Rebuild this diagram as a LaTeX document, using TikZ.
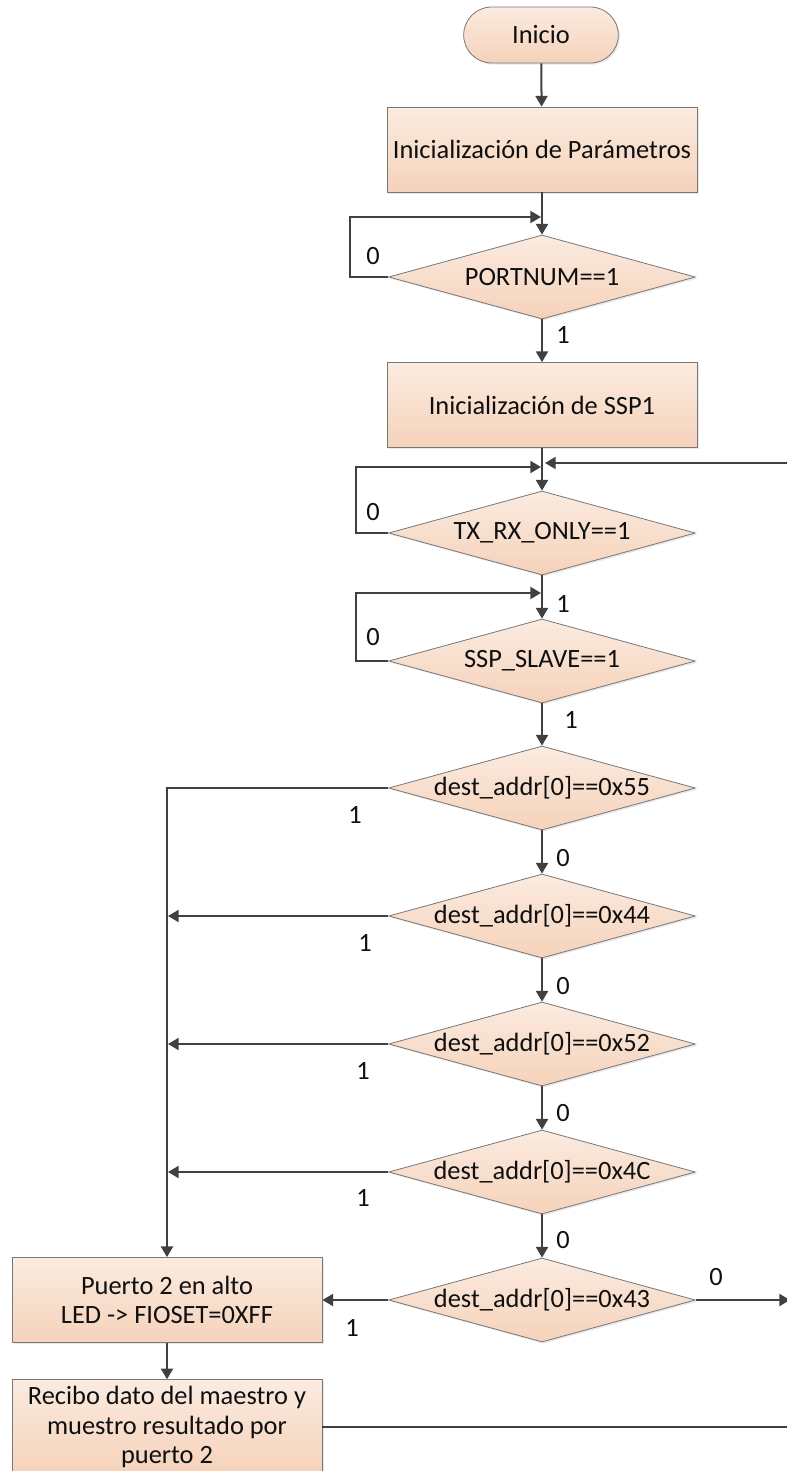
\documentclass[tikz,border=0pt]{standalone}
\usepackage{fontspec}
\setmainfont{Carlito}
\usetikzlibrary{shapes.geometric,arrows.meta,shadows}
\definecolor{linec}{RGB}{64,64,64}
\definecolor{bordc}{RGB}{120,120,120}
\definecolor{filltop}{RGB}{251,235,224}
\definecolor{fillbot}{RGB}{245,210,186}
\definecolor{txtc}{RGB}{15,15,15}
\tikzset{
  shp/.style={draw=bordc, line width=0.6pt, top color=filltop, bottom color=fillbot,
    text=txtc, font=\fontsize{19.8}{22}\selectfont, align=center, inner sep=0pt,
    drop shadow={opacity=0.18, shadow xshift=1.2pt, shadow yshift=-1.2pt}},
  term/.style={shp, rounded corners=21pt, minimum width=116pt, minimum height=42pt},
  procbox/.style={shp, rectangle, minimum width=232.5pt, minimum height=63.75pt},
  dia/.style={shp, diamond, minimum width=230pt, minimum height=63pt},
  conn/.style={draw=linec, line width=1.5pt},
  arr/.style={conn, -{Triangle[length=8pt,width=9pt]}},
  lbl/.style={text=txtc, font=\fontsize{19.8}{22}\selectfont, inner sep=0pt}
}
\begin{document}
\begin{tikzpicture}[x=0.75pt,y=-0.75pt]
\useasboundingbox (0,0) rectangle (787,1471);
\clip (0,0) rectangle (787,1471);
\fill[white] (0,0) rectangle (787,1471);

% nodes
\node[term] (start) at (541,35) {Inicio};
\node[procbox] (init1) at (542,149.5) {Inicialización de Parámetros};
\node[dia] (d1) at (542,277) {\makebox[0pt]{PORTNUM==1}};
\node[procbox] (init2) at (542,405) {Inicialización de SSP1};
\node[dia] (d2) at (542,533) {\makebox[0pt]{TX\_RX\_ONLY==1}};
\node[dia] (d3) at (542,661) {\makebox[0pt]{SSP\_SLAVE==1}};
\node[dia] (d4) at (542,788) {\makebox[0pt]{dest\_addr[0]==0x55}};
\node[dia] (d5) at (542,916) {\makebox[0pt]{dest\_addr[0]==0x44}};
\node[dia] (d6) at (542,1044) {\makebox[0pt]{dest\_addr[0]==0x52}};
\node[dia] (d7) at (542,1172) {\makebox[0pt]{dest\_addr[0]==0x4C}};
\node[dia] (d8) at (542,1300) {\makebox[0pt]{dest\_addr[0]==0x43}};
\node[procbox] (p2) at (167,1300) {Puerto 2 en alto\\LED -> FIOSET=0XFF};
\node[procbox, minimum height=71pt] (rec) at (167,1427) {Recibo dato del maestro y\\muestro resultado por\\puerto 2};

% junction coordinates
\coordinate (j1) at (541,217);
\coordinate (j2) at (541,467);
\coordinate (j2r) at (545,463);
\coordinate (r1) at (790,463);
\coordinate (j3) at (541,593);
\coordinate (v5) at (168,916);
\coordinate (v6) at (168,1044);
\coordinate (v7) at (168,1172);
\coordinate (out0) at (790,1300);
\coordinate (outr) at (790,1427);

% main flow
\draw[arr] (start) -- (init1);
\draw[arr] (init1) -- (d1);
\draw[arr] (d1.west) -- ++(-38,0) |- (j1);
\draw[arr] (d1) -- (init2);
\draw[arr] (init2) -- (d2);
\draw[arr] (r1) -- (j2r);
\draw[arr] (d2.west) -- ++(-32,0) |- (j2);
\draw[arr] (d2) -- (d3);
\draw[arr] (d3.west) -- ++(-32,0) |- (j3);
\draw[arr] (d3) -- (d4);
\draw[arr] (d4) -- (d5);
\draw[arr] (d5) -- (d6);
\draw[arr] (d6) -- (d7);
\draw[arr] (d7) -- (d8);

% left branch
\draw[arr] (d4.west) -| (p2.north);
\draw[arr] (d5.west) -- (v5);
\draw[arr] (d6.west) -- (v6);
\draw[arr] (d7.west) -- (v7);
\draw[arr] (d8.west) -- (p2.east);
\draw[arr] (d8.east) -- (out0);
\draw[arr] (p2) -- (rec);
\draw[conn] (rec.east) -- (outr);

% labels
\node[lbl] (l1) at (373,256) {0};
\node[lbl] (l2) at (563,335) {1};
\node[lbl] (l3) at (373,512) {0};
\node[lbl] (l4) at (563,604) {1};
\node[lbl] (l5) at (373,637) {0};
\node[lbl] (l6) at (571,720) {1};
\node[lbl] (l7) at (355,815) {1};
\node[lbl] (l8) at (563,858) {0};
\node[lbl] (l9) at (365,943) {1};
\node[lbl] (l10) at (563,986) {0};
\node[lbl] (l11) at (363,1071) {1};
\node[lbl] (l12) at (563,1113) {0};
\node[lbl] (l13) at (363,1198) {1};
\node[lbl] (l14) at (563,1240) {0};
\node[lbl] (l15) at (716,1277) {0};
\node[lbl] (l16) at (352,1328) {1};
\end{tikzpicture}
\end{document}
